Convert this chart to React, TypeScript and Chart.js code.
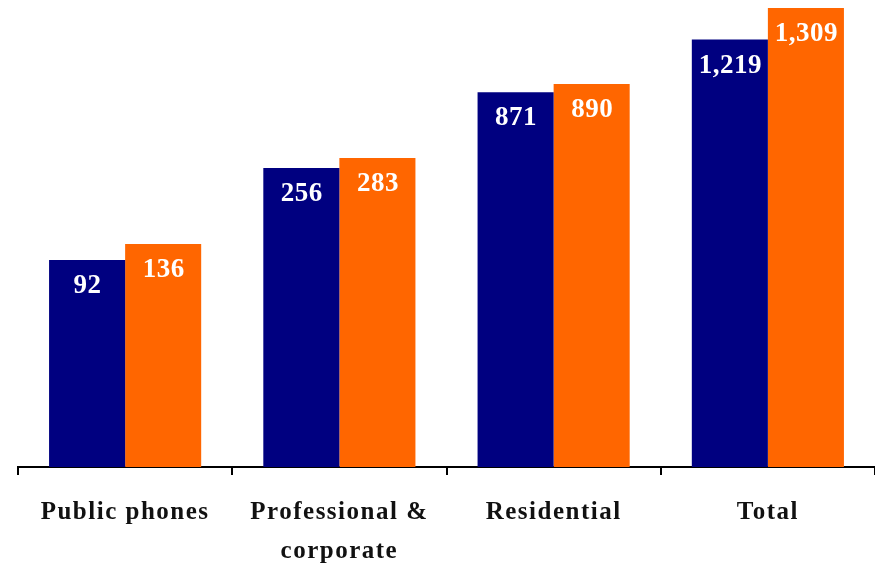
import React, { useEffect, useRef } from "react";
import { Chart, registerables } from "chart.js";

Chart.register(...registerables);

const categories: (string | string[])[] = [
  "Public phones",
  ["Professional &", "corporate"],
  "Residential",
  "Total",
];
// Values shown on the bars
const seriesAValues = [92, 256, 871, 1219];
const seriesBValues = [136, 283, 890, 1309];
// Bar heights as drawn in the picture (in the same units, the source chart is not proportional)
const seriesAHeights = [590, 853, 1069, 1219];
const seriesBHeights = [636, 881, 1092, 1309];

const navy = "#000080";
const orange = "#FF6600";
const serif = "'Liberation Serif', 'DejaVu Serif', serif";

const fmt = (v: number) => v.toLocaleString("en-US");

const spacing = {
  id: "spacing",
  beforeDraw(chart: any) {
    chart.ctx.letterSpacing = "1.5px";
  },
};

const valueLabels = {
  id: "valueLabels",
  afterDatasetsDraw(chart: any) {
    const ctx = chart.ctx;
    const labelSets = [seriesAValues, seriesBValues];
    ctx.save();
    ctx.letterSpacing = "0.5px";
    ctx.fillStyle = "#ffffff";
    ctx.font = `bold 27px ${serif}`;
    ctx.textAlign = "center";
    ctx.textBaseline = "middle";
    chart.data.datasets.forEach((_: any, di: number) => {
      const meta = chart.getDatasetMeta(di);
      meta.data.forEach((bar: any, i: number) => {
        ctx.fillText(fmt(labelSets[di][i]), bar.x + 0.5, bar.y + 26);
      });
    });
    ctx.restore();
  },
};

export default function App() {
  const ref = useRef<HTMLCanvasElement | null>(null);
  useEffect(() => {
    if (!ref.current) return;
    const chart = new Chart(ref.current, {
      type: "bar",
      data: {
        labels: categories,
        datasets: [
          { data: seriesAHeights, backgroundColor: navy, borderWidth: 0 },
          { data: seriesBHeights, backgroundColor: orange, borderWidth: 0 },
        ],
      },
      options: {
        animation: false,
        responsive: false,
        maintainAspectRatio: false,
        datasets: { bar: { categoryPercentage: 0.71, barPercentage: 1 } },
        layout: { padding: { left: 18, right: 0, top: 8, bottom: 0 } },
        plugins: { legend: { display: false }, tooltip: { enabled: false } },
        scales: {
          y: { display: false, min: 0, max: 1309 },
          x: {
            afterFit(scale: any) {
              scale.height = 96;
            },
            border: { display: true, color: "#000", width: 2 },
            grid: {
              display: true,
              offset: true,
              drawOnChartArea: false,
              drawTicks: true,
              tickLength: 8,
              color: "#000",
              lineWidth: 2,
            },
            ticks: {
              color: "#111",
              font: { family: serif, size: 25, weight: "bold", lineHeight: 1.56 },
              padding: 18,
              maxRotation: 0,
              autoSkip: false,
            },
          },
        },
      },
      plugins: [spacing, valueLabels],
    });
    return () => chart.destroy();
  }, []);
  return (
    <div style={{ position: "fixed", left: 0, top: 0, width: 875, height: 563, background: "#fff" }}>
      <canvas ref={ref} width={875} height={563} style={{ display: "block" }} />
    </div>
  );
}
